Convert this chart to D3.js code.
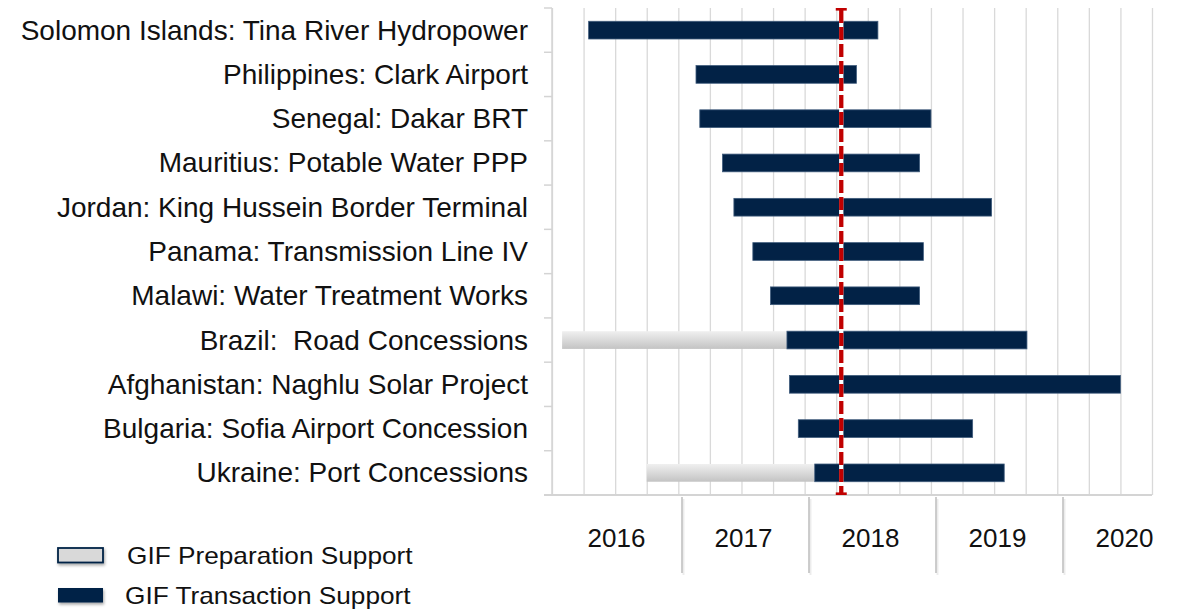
<!DOCTYPE html>
<html>
<head>
<meta charset="utf-8">
<script src="https://cdn.jsdelivr.net/npm/d3@7"></script>
<style>
  body { margin: 0; background: #fff; }
  text { font-family: "Liberation Sans", Arial, sans-serif; fill: #111; white-space: pre; }
</style>
</head>
<body>
<svg id="chart" width="1178" height="609"></svg>
<script>
// Projects, top to bottom
const projects = [
  'Solomon Islands: Tina River Hydropower',
  'Philippines: Clark Airport',
  'Senegal: Dakar BRT',
  'Mauritius: Potable Water PPP',
  'Jordan: King Hussein Border Terminal',
  'Panama: Transmission Line IV',
  'Malawi: Water Treatment Works',
  'Brazil:  Road Concessions',
  'Afghanistan: Naghlu Solar Project',
  'Bulgaria: Sofia Airport Concession',
  'Ukraine: Port Concessions'
];

// GIF Preparation Support (years, null = none)
const prepStart = [null, null, null, null, null, null, null, 2016.08, null, null, 2016.75];
const prepEnd   = [null, null, null, null, null, null, null, 2017.86, null, null, 2018.08];

// GIF Transaction Support (years)
const transStart = [2016.29, 2017.14, 2017.17, 2017.35, 2017.44, 2017.59, 2017.73, 2017.86, 2017.88, 2017.95, 2018.08];
const transEnd   = [2018.58, 2018.41, 2019.00, 2018.91, 2019.48, 2018.94, 2018.91, 2019.76, 2020.50, 2019.33, 2019.58];

// Year labels under the chart and the "today" marker
const years = ['2016', '2017', '2018', '2019', '2020'];
const cutoff = 2018.29;

const legendLabels = ['GIF Preparation Support', 'GIF Transaction Support'];

const navy = '#022246';

const svg = d3.select('#chart');
const plot = {left: 552, right: 1152, top: 8, bottom: 495};

const defs = svg.append('defs');
const grad = defs.append('linearGradient')
  .attr('id', 'prepGrad').attr('x1', 0).attr('y1', 0).attr('x2', 0).attr('y2', 1);
grad.append('stop').attr('offset', '0%').attr('stop-color', '#f0f0f0');
grad.append('stop').attr('offset', '100%').attr('stop-color', '#c3c3c3');

const shadow = defs.append('filter').attr('id', 'shadow')
  .attr('x', '-20%').attr('y', '-20%').attr('width', '150%').attr('height', '180%');
shadow.append('feDropShadow').attr('dx', 1).attr('dy', 2)
  .attr('stdDeviation', 1.5).attr('flood-color', '#000').attr('flood-opacity', 0.35);

// Scales
const x = d3.scaleLinear()
  .domain([2016, 2020.75])
  .range([plot.left, plot.right]);

const y = d3.scaleBand()
  .domain(projects)
  .range([plot.top, plot.bottom])
  .paddingInner(0.6)
  .paddingOuter(0.3);

// Quarter gridlines
const quarters = d3.range(2016, 2020.76, 0.25);
svg.append('g')
  .attr('transform', 'translate(0,' + plot.bottom + ')')
  .call(d3.axisBottom(x).tickValues(quarters).tickSize(-(plot.bottom - plot.top)).tickFormat(''))
  .call(g => g.select('.domain').remove())
  .call(g => g.selectAll('line').attr('stroke', '#d9d9d9').attr('stroke-width', 1.3));

// Left axis with ticks between categories
const step = y.step();
const boundaries = projects.map(p => y(p) - (step - y.bandwidth()) / 2);
const axisG = svg.append('g').attr('stroke', '#d4d4d4').attr('stroke-width', 1.5);
axisG.append('line')
  .attr('x1', plot.left).attr('x2', plot.left)
  .attr('y1', plot.top).attr('y2', plot.bottom);
axisG.selectAll('.tick-mark')
  .data(boundaries)
  .enter()
  .append('line')
    .attr('x1', plot.left - 8).attr('x2', plot.left)
    .attr('y1', d => d).attr('y2', d => d);
axisG.append('line')
  .attr('x1', plot.left - 8).attr('x2', plot.right)
  .attr('y1', plot.bottom).attr('y2', plot.bottom)
  .attr('stroke-width', 2);

// Category labels
svg.append('g')
  .selectAll('text')
  .data(projects)
  .enter()
  .append('text')
    .attr('x', 528)
    .attr('y', d => y(d) + y.bandwidth() / 2 + 9.5)
    .attr('text-anchor', 'end')
    .style('font-size', '28px')
    .text(d => d);

// Preparation bars
const prepData = projects.map((p, i) => ({name: p, start: prepStart[i], end: prepEnd[i]}))
  .filter(d => d.start !== null);
svg.append('g')
  .selectAll('rect')
  .data(prepData)
  .enter()
  .append('rect')
    .attr('x', d => x(d.start))
    .attr('y', d => y(d.name))
    .attr('width', d => x(d.end) - x(d.start))
    .attr('height', y.bandwidth())
    .attr('fill', 'url(#prepGrad)');

// Transaction bars
const transData = projects.map((p, i) => ({name: p, start: transStart[i], end: transEnd[i]}));
svg.append('g')
  .selectAll('rect')
  .data(transData)
  .enter()
  .append('rect')
    .attr('x', d => x(d.start))
    .attr('y', d => y(d.name))
    .attr('width', d => x(d.end) - x(d.start))
    .attr('height', y.bandwidth())
    .attr('fill', navy)
    .attr('stroke', '#3f5b7c')
    .attr('stroke-width', 0.8);

// Red dashed marker
const cx = x(cutoff);
svg.append('line')
  .attr('x1', cx).attr('x2', cx)
  .attr('y1', plot.top + 2).attr('y2', plot.bottom - 2)
  .attr('stroke', '#fff').attr('stroke-width', 4.3);
svg.append('line')
  .attr('x1', cx).attr('x2', cx)
  .attr('y1', plot.top + 2).attr('y2', plot.bottom - 2)
  .attr('stroke', '#c00000').attr('stroke-width', 4.3)
  .attr('stroke-dasharray', '13,4');
[plot.top + 1.3, plot.bottom - 1.3].forEach(cy => {
  svg.append('line')
    .attr('x1', cx - 5.5).attr('x2', cx + 5.5)
    .attr('y1', cy).attr('y2', cy)
    .attr('stroke', '#c00000').attr('stroke-width', 2.6);
});

// Year panel below the axis
const yearBand = d3.scaleBand()
  .domain(years)
  .range([555, 1190]);

const sep = svg.append('g')
  .selectAll('g')
  .data(years.slice(1))
  .enter()
  .append('g');
sep.append('line')
  .attr('x1', d => yearBand(d) + 1.5).attr('x2', d => yearBand(d) + 1.5)
  .attr('y1', 499).attr('y2', 575)
  .attr('stroke', '#ececec').attr('stroke-width', 2);
sep.append('line')
  .attr('x1', d => yearBand(d)).attr('x2', d => yearBand(d))
  .attr('y1', 497).attr('y2', 573)
  .attr('stroke', '#bdbdbd').attr('stroke-width', 1.5);

svg.append('g')
  .selectAll('text')
  .data(years)
  .enter()
  .append('text')
    .attr('x', d => yearBand(d) + yearBand.bandwidth() / 2 - 2)
    .attr('y', 547)
    .attr('text-anchor', 'middle')
    .style('font-size', '26px')
    .text(d => d);

// Legend
const legend = svg.append('g');
const legendFill = ['#d9d9d9', navy];
legendLabels.forEach((label, i) => {
  const ly = 548 + i * 40;
  legend.append('rect')
    .attr('x', 58).attr('y', ly)
    .attr('width', 45).attr('height', 14.5)
    .attr('fill', legendFill[i])
    .attr('stroke', navy).attr('stroke-width', i === 0 ? 1.8 : 0)
    .attr('filter', 'url(#shadow)');
  legend.append('text')
    .attr('transform', 'translate(' + (i === 0 ? 127 : 125) + ',' + (ly + 16) + ') scale(1.14,1)')
    .style('font-size', '23px')
    .text(label);
});
</script>
</body>
</html>
